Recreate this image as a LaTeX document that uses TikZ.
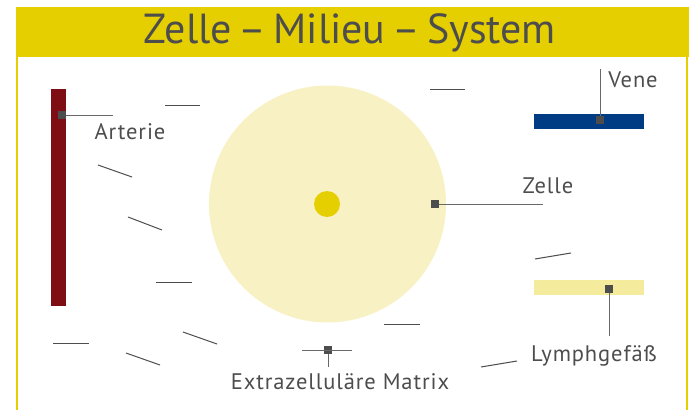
\documentclass[tikz,border=0pt]{standalone}
\usepackage{fontspec}
\setmainfont{PT Sans}
\usepackage{tikz}
\usetikzlibrary{positioning}
\definecolor{headyellow}{HTML}{E6CF00}
\definecolor{cellyellow}{HTML}{F8F1C4}
\definecolor{lymphyellow}{HTML}{F5EB9C}
\definecolor{arteryred}{HTML}{7F0E14}
\definecolor{veinblue}{HTML}{003C84}
\definecolor{textgray}{HTML}{4D4D4D}
\tikzset{
  marker/.style={fill=textgray, minimum size=8pt, inner sep=0pt},
  pointer/.style={draw=textgray!85, line width=1pt},
  fibre/.style={draw=textgray, line width=1pt},
  labeltext/.style={text=textgray, inner sep=0pt, font=\fontsize{22.5}{22.5}\selectfont\addfontfeature{LetterSpace=4}},
}
\begin{document}
\begin{tikzpicture}[x=1pt,y=-1pt]
   \useasboundingbox (0,0) rectangle (689,410);
   \fill[headyellow] (16,7) rectangle (689,57);
   \draw[headyellow, line width=2pt] (16.5,57) -- (16.5,410) (687,57) -- (687,410);
   \draw (350,33) node[text=textgray, font=\fontsize{42}{42}\selectfont] (title) {Zelle\,–\,Milieu\,–\,System};

   % vessels and cell
   \fill[cellyellow] (327.5,204) circle (118.5);
   \fill[headyellow] (327,204) circle (13);
   \fill[arteryred] (51,89) rectangle (66,306);
   \fill[veinblue] (534,114) rectangle (644,129);
   \fill[lymphyellow] (534,280) rectangle (644,295);

   % matrix fibres
   \foreach \a/\b/\c/\d in {165/105/200/105, 430/89/465/89, 98/165/132/177, 128/217/162/230,
       156/282/192/282, 183/332/217/344, 53/343/89/343, 126/353/160/365,
       535/259/571/253, 384/324/420/324, 481/367/517/361}
     \draw[fibre] (\a,\b) -- (\c,\d);

   % markers
   \draw (61.5,115) node[marker] (arterie) {};
   \draw (600,120) node[marker] (vene) {};
   \draw (435,204) node[marker] (zelle) {};
   \draw (609,289) node[marker] (lymphe) {};
   \draw (328,350) node[marker] (matrix) {};
   \coordinate (arterie-end) at (113,115);
   \coordinate (vene-end) at (600,69);
   \coordinate (zelle-end) at (543,204);
   \coordinate (lymphe-end) at (609,336);
   \coordinate (matrix-left) at (302,350);
   \coordinate (matrix-right) at (352,350);
   \coordinate (matrix-end) at (328,367);

   % labels
   \draw (130,132) node[labeltext] (arterie-label) {Arterie};
   \draw (633,80) node[labeltext] (vene-label) {Vene};
   \draw (548,186) node[labeltext] (zelle-label) {Zelle};
   \draw (594,356) node[labeltext] (lymphe-label) {Lymphgefäß};
   \draw (340,382) node[labeltext] (matrix-label) {Extrazelluläre Matrix};

   \path[pointer] (arterie) edge (arterie-end);
   \path[pointer] (vene) edge (vene-end);
   \path[pointer] (zelle) edge (zelle-end);
   \path[pointer] (lymphe) edge (lymphe-end);
   \path[pointer] (matrix-left) edge (matrix-right);
   \path[pointer] (matrix) edge (matrix-end);
\end{tikzpicture}
\end{document}
